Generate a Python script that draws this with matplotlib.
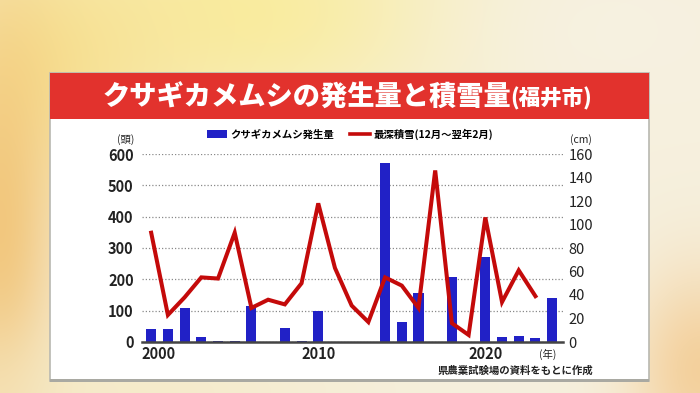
import numpy as np
import matplotlib
matplotlib.use('Agg')
import matplotlib.pyplot as plt
from matplotlib.patches import Rectangle, Patch
from matplotlib.lines import Line2D
import matplotlib.transforms as mtransforms

plt.rcParams['font.family'] = ['Noto Sans CJK JP', 'DejaVu Sans']

# ---------------- data ----------------
years = list(range(2000, 2025))
bugs = [40, 40, 110, 15, 3, 3, 115, 0, 45, 3, 98, 0, 0, 0, 572, 63, 156, 0, 208, 0, 270, 17, 19, 12, 141]
snow_years = list(range(2000, 2024))
snow = [93, 23, 38, 55, 54, 93, 29, 36, 32, 50, 118, 63, 31, 17, 55, 48, 29, 146, 16, 6, 106, 34, 61, 39]
left_ticks = [0, 100, 200, 300, 400, 500, 600]
right_ticks = [0, 20, 40, 60, 80, 100, 120, 140, 160]
xtick_years = [2000, 2010, 2020]
title_main = 'クサギカメムシの発生量と積雪量'
title_sub = '(福井市)'
bar_label = 'クサギカメムシ発生量'
line_label = '最深積雪(12月～翌年2月)'
left_unit = '(頭)'
right_unit = '(cm)'
x_unit = '(年)'
source = '県農業試験場の資料をもとに作成'

BAR_C = '#2121c6'
LINE_C = '#c40a0a'
W, H = 700, 393


def fx(x):
    return x / W


def fy(y):
    return 1 - y / H


fig = plt.figure(figsize=(7, 3.93), dpi=100)

# background (decorative gradient)
yy, xx = np.mgrid[0:H, 0:W]
img = np.ones((H, W, 3)) * np.array([246, 240, 222]) / 255
blobs = [
    (250, 10, 210, 120, (250, 236, 150), 0.85),
    (60, 60, 130, 130, (247, 222, 135), 0.75),
    (0, 230, 60, 220, (241, 190, 105), 0.8),
    (120, 393, 220, 70, (245, 232, 190), 0.6),
    (700, 370, 70, 100, (243, 198, 135), 0.75),
    (600, 30, 150, 90, (247, 242, 228), 0.6),
]
for cx, cy, rx, ry, col, s in blobs:
    w = s * np.exp(-((xx - cx) / rx) ** 2 - ((yy - cy) / ry) ** 2)
    img = img * (1 - w[..., None]) + (np.array(col) / 255) * w[..., None]
bg = fig.add_axes([0, 0, 1, 1], zorder=-10)
bg.imshow(img, aspect='auto', extent=(0, 1, 0, 1))
bg.axis('off')

# panel
fig.patches.append(Rectangle((fx(50), fy(381)), 599 / W, 308 / H, transform=fig.transFigure,
                             facecolor='white', edgecolor='#b8b8b0', lw=1.2, zorder=1))
fig.patches.append(Rectangle((fx(50), fy(382)), 599 / W, 3 / H, transform=fig.transFigure,
                             facecolor='#a9a9a2', edgecolor='none', zorder=1.1))
fig.patches.append(Rectangle((fx(50), fy(119)), 599 / W, 46 / H, transform=fig.transFigure,
                             facecolor='#e2322d', edgecolor='none', zorder=1.2))

# title
t1 = fig.text(fx(103), fy(97), title_main, ha='left', va='center', fontsize=19.6,
              weight='heavy', color='white', zorder=5)
fig.canvas.draw()
bb = t1.get_window_extent(fig.canvas.get_renderer())
fig.text(bb.x1 / W - 1 / W, fy(99), title_sub, ha='left', va='center', fontsize=15.5,
         weight='heavy', color='white', zorder=5)

# main axes
ax = fig.add_axes([fx(142), fy(342), 421 / W, 188 / H], zorder=5)
ax.patch.set_alpha(0)
ax.bar(years, bugs, width=0.6, color=BAR_C, zorder=3)
ax.set_xlim(1999.45, 2024.65)
ax.set_ylim(0, 600)
ax.set_yticks(left_ticks)
ax.set_axisbelow(True)
ax.yaxis.grid(True, linestyle=(0, (1, 1.6)), color='#8a8a8a', lw=0.9)
for s in ['top', 'left', 'right']:
    ax.spines[s].set_visible(False)
ax.spines['bottom'].set_color('#444444')
ax.spines['bottom'].set_linewidth(1.8)
ax.spines['bottom'].set_zorder(6)
ax.tick_params(axis='y', length=0, pad=6, labelsize=10.5, labelcolor='#222222')
ax.tick_params(axis='x', length=0, pad=3, labelsize=10.5, labelcolor='#222222')
ax.set_xticks(xtick_years)
ax.set_xticklabels([str(y) for y in xtick_years])
for lab in ax.get_yticklabels() + ax.get_xticklabels():
    lab.set_fontweight('bold')
first = ax.get_xticklabels()[0]
first.set_transform(first.get_transform() + mtransforms.ScaledTranslation(7 / 100, 0, fig.dpi_scale_trans))

ax2 = ax.twinx()
ax2.plot(snow_years, snow, color=LINE_C, lw=2.9, zorder=4, solid_joinstyle='miter')
ax2.set_ylim(0, 160)
ax2.set_yticks(right_ticks)
for s in ['top', 'left', 'right', 'bottom']:
    ax2.spines[s].set_visible(False)
ax2.tick_params(axis='y', length=0, pad=4, labelsize=10.5, labelcolor='#222222')

# units and notes
fig.text(fx(125.5), fy(140), left_unit, ha='center', va='center', fontsize=7.5, color='#222222', zorder=6)
fig.text(fx(581), fy(140), right_unit, ha='center', va='center', fontsize=7.5, color='#222222', zorder=6)
fig.text(fx(548), fy(354), x_unit, ha='center', va='center', fontsize=7.5, color='#222222', zorder=6)
fig.text(fx(593), fy(371), source, ha='right', va='center', fontsize=7.5, weight='bold', color='#222222', zorder=6)

# legend
handles = [Patch(facecolor=BAR_C, edgecolor='none'), Line2D([], [], color=LINE_C, lw=2.6)]
leg = fig.legend(handles, [bar_label, line_label], loc='center', bbox_to_anchor=(fx(350), fy(134)),
                 ncol=2, frameon=False, prop={'size': 7.5, 'weight': 'bold'}, handlelength=1.9,
                 handleheight=0.7, handletextpad=0.3, columnspacing=1.6)
leg.set_zorder(6)

fig.savefig('out.png', dpi=100)
